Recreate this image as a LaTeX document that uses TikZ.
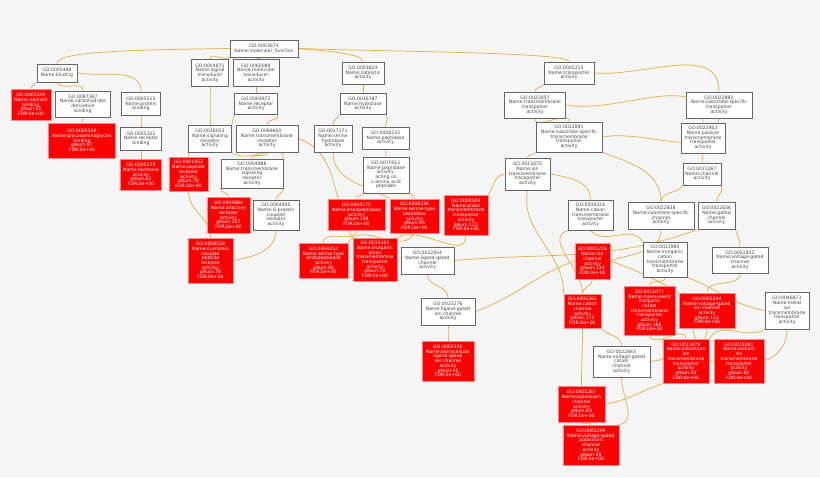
\documentclass[tikz,border=0pt]{standalone}
\usepackage{fontspec}
\setmainfont{DejaVu Sans}
\pgfdeclarelayer{bg}\pgfdeclarelayer{edges}\pgfsetlayers{bg,edges,main}
\definecolor{edgec}{RGB}{226,176,64}
\definecolor{bgc}{RGB}{245,245,245}
\definecolor{txtg}{RGB}{70,70,70}
\tikzset{
 base/.style={rectangle,align=center,inner sep=0.5pt,font=\fontsize{4.6}{4.7}\selectfont},
 wn/.style={base,fill=white,draw=black!60,line width=1pt,text=txtg},
 rn/.style={base,fill=red,draw=red!45,line width=0.8pt,text=white},
 e/.style={draw=edgec,line width=0.7pt}
}
\newcommand\GW[6]{\node[wn,minimum width=#4pt,minimum height=#5pt] (#1) at (#2,#3) {#6};}
\newcommand\GR[6]{\node[rn,minimum width=#4pt,minimum height=#5pt] (#1) at (#2,#3) {#6};}
\newcommand\ED[2]{\draw[e] (#1.south) to[out=-90,in=90] (#2.north);}
\begin{document}
\begin{tikzpicture}[x=1pt,y=-1pt]
\begin{pgfonlayer}{bg}
\fill[bgc] (0,0) rectangle (820,477);
\end{pgfonlayer}
\useasboundingbox (0,0) rectangle (820,477);
\GW{mf}{264}{48.5}{68}{17}{GO:0003674\\Name:molecular\_function}
\GW{b}{57}{73}{40}{18}{GO:0005488\\Name:binding}
\GW{n4871}{210}{73}{37}{27}{GO:0004871\\Name:signal\\transducer\\activity}
\GW{n60089}{256}{73}{46}{27}{GO:0060089\\Name:molecular\\transducer\\activity}
\GW{n3824}{363}{73}{42}{22}{GO:0003824\\Name:catalytic\\activity}
\GW{n5215}{569}{73}{50}{22}{GO:0005215\\Name:transporter\\activity}
\GR{n5549}{31}{104.5}{40}{31}{GO:0005549\\Name:odorant\\binding\\gNum:50\\FDR:0e+00}
\GW{n97367}{83}{104}{55}{26}{GO:0097367\\Name:carbohydrate\\derivative\\binding}
\GW{n5515}{141}{104}{39}{23}{GO:0005515\\Name:protein\\binding}
\GW{n4872}{256}{104}{43}{21}{GO:0004872\\Name:receptor\\activity}
\GW{n16787}{363}{104}{46}{21}{GO:0016787\\Name:hydrolase\\activity}
\GW{n22857}{535}{105}{61}{26}{GO:0022857\\Name:transmembrane\\transporter\\activity}
\GW{n22892}{719}{105}{66}{26}{GO:0022892\\Name:substrate-specific\\transporter\\activity}
\GR{n5539}{82}{140.5}{67}{35}{GO:0005539\\Name:glycosaminoglycan\\binding\\gNum:97\\FDR:0e+00}
\GW{n5102}{141}{138.5}{41}{23}{GO:0005102\\Name:receptor\\binding}
\GW{n38023}{210}{138.5}{43}{27}{GO:0038023\\Name:signaling\\receptor\\activity}
\GW{n99600}{267}{138.5}{62}{27}{GO:0099600\\Name:transmembrane\\receptor\\activity}
\GW{n17171}{333}{138.5}{38}{27}{GO:0017171\\Name:serine\\hydrolase\\activity}
\GW{n8233}{385.5}{138}{47}{22}{GO:0008233\\Name:peptidase\\activity}
\GW{n22891}{569}{137}{66}{30}{GO:0022891\\Name:substrate-specific\\transmembrane\\transporter\\activity}
\GW{n22803}{703}{138}{44}{30}{GO:0022803\\Name:passive\\transmembrane\\transporter\\activity}
\GR{n5179}{141}{174.5}{41}{31}{GO:0005179\\Name:hormone\\activity\\gNum:62\\FDR:0e+00}
\GR{n1653}{188.5}{174}{39}{34}{GO:0001653\\Name:peptide\\receptor\\activity\\gNum:78\\FDR:0e+00}
\GW{n4888}{252}{173.5}{62}{29}{GO:0004888\\Name:transmembrane\\signaling\\receptor\\activity}
\GW{n70011}{386}{175}{46}{36}{GO:0070011\\Name:peptidase\\activity,\\acting on\\L-amino acid\\peptides}
\GW{n15075}{527.5}{174}{45}{32}{GO:0015075\\Name:ion\\transmembrane\\transporter\\activity}
\GW{n15267}{702}{174}{38}{22}{GO:0015267\\Name:channel\\activity}
\GR{n4984}{228.5}{215}{43}{36}{GO:0004984\\Name:olfactory\\receptor\\activity\\gNum:247\\FDR:0e+00}
\GW{n4930}{276}{215}{46}{30}{GO:0004930\\Name:G-protein\\coupled\\receptor\\activity}
\GR{n4175}{356.5}{214.5}{57}{31}{GO:0004175\\Name:endopeptidase\\activity\\gNum:148\\FDR:0e+00}
\GR{n8236}{414.5}{216}{49}{34}{GO:0008236\\Name:serine-type\\peptidase\\activity\\gNum:95\\FDR:0e+00}
\GR{n8509}{466}{215}{44}{40}{GO:0008509\\Name:anion\\transmembrane\\transporter\\activity\\gNum:122\\FDR:0e+00}
\GW{n8324}{590.5}{215}{45}{30}{GO:0008324\\Name:cation\\transmembrane\\transporter\\activity}
\GW{n22838}{661}{215.5}{66}{27}{GO:0022838\\Name:substrate-specific\\channel\\activity}
\GW{n22836}{716.5}{215.5}{37}{27}{GO:0022836\\Name:gated\\channel\\activity}
\GR{n8528}{210.5}{260.5}{45}{45}{GO:0008528\\Name:G-protein\\coupled\\peptide\\receptor\\activity\\gNum:78\\FDR:0e+00}
\GR{n4252}{323.5}{260.5}{49}{35}{GO:0004252\\Name:serine-type\\endopeptidase\\activity\\gNum:86\\FDR:0e+00}
\GR{n15103}{375}{259.5}{44}{43}{GO:0015103\\Name:inorganic\\anion\\transmembrane\\transporter\\activity\\gNum:70\\FDR:0e+00}
\GW{n22834}{427.5}{260.5}{53}{27}{GO:0022834\\Name:ligand-gated\\channel\\activity}
\GR{n5216}{592.5}{261}{35}{36}{GO:0005216\\Name:ion\\channel\\activity\\gNum:234\\FDR:0e+00}
\GW{n22890}{665}{259.5}{44}{35}{GO:0022890\\Name:inorganic\\cation\\transmembrane\\transporter\\activity}
\GW{n22832}{740}{260}{56}{26}{GO:0022832\\Name:voltage-gated\\channel\\activity}
\GW{n15276}{448}{311.5}{54}{27}{GO:0015276\\Name:ligand-gated\\ion channel\\activity}
\GR{n5261}{582.5}{311}{37}{34}{GO:0005261\\Name:cation\\channel\\activity\\gNum:171\\FDR:0e+00}
\GR{n15077}{649.5}{310.5}{51}{49}{GO:0015077\\Name:monovalent\\inorganic\\cation\\transmembrane\\transporter\\activity\\gNum:166\\FDR:0e+00}
\GR{n5244}{707}{310.5}{56}{35}{GO:0005244\\Name:voltage-gated\\ion channel\\activity\\gNum:115\\FDR:0e+00}
\GW{n46873}{787}{310.5}{44}{37}{GO:0046873\\Name:metal\\ion\\transmembrane\\transporter\\activity}
\GR{n5230}{448}{361}{52}{40}{GO:0005230\\Name:extracellular\\ligand-gated\\ion channel\\activity\\gNum:45\\FDR:0e+00}
\GW{n22843}{621.5}{361.5}{57}{31}{GO:0022843\\Name:voltage-gated\\cation\\channel\\activity}
\GR{n15079}{686}{361}{46}{44}{GO:0015079\\Name:potassium\\ion\\transmembrane\\transporter\\activity\\gNum:56\\FDR:0e+00}
\GR{n15081}{739}{361}{50}{44}{GO:0015081\\Name:sodium\\ion\\transmembrane\\transporter\\activity\\gNum:80\\FDR:0e+00}
\GR{n5267}{581.5}{404}{47}{36}{GO:0005267\\Name:potassium\\channel\\activity\\gNum:83\\FDR:0e+00}
\GR{n5249}{591}{445}{56}{40}{GO:0005249\\Name:voltage-gated\\potassium\\channel\\activity\\gNum:59\\FDR:0e+00}
\begin{pgfonlayer}{edges}
\draw[e] (mf.west) .. controls (120,50) and (57,52) .. (b.north);
\draw[e] (mf.south west) to[out=-150,in=90] (n4871.north);
\draw[e] (mf.south) -- (n60089.north);
\draw[e] (mf.east) .. controls (340,52) and (363,55) .. (n3824.north);
\draw[e] (mf.east) .. controls (400,52) and (565,52) .. (n5215.north);
\draw[e] (b.south west) to[out=-120,in=90] (n5549.north);
\draw[e] (b.south) to[out=-60,in=90] (n97367.north);
\draw[e] (b.east) to[out=-10,in=90] (n5515.north);
\ED{n97367}{n5539}
\ED{n5515}{n5102}
\ED{n5102}{n5179}
\ED{n4871}{n38023}
\ED{n60089}{n4872}
\draw[e] (n4872.south west) to[out=-120,in=60] (n38023.north east);
\draw[e] (n4872.south east) to[out=-60,in=90] (n99600.north);
\draw[e] (n38023.south west) to[out=-110,in=90] (n1653.north);
\draw[e] (n38023.south east) to[out=-40,in=90] (n4888.north east);
\ED{n99600}{n4888}
\draw[e] (n99600.east) to[out=-20,in=120] (n15103.north west);
\ED{n1653}{n8528}
\draw[e] (n4888.south west) to[out=-90,in=90] (n4984.north);
\draw[e] (n4888.south east) to[out=-90,in=90] (n4930.north);
\draw[e] (n4930.south) to[out=-90,in=10] (n8528.east);
\ED{n3824}{n16787}
\draw[e] (n16787.south west) to[out=-120,in=90] (n17171.north);
\draw[e] (n16787.south east) to[out=-60,in=90] (n8233.north);
\ED{n8233}{n70011}
\draw[e] (n70011.south west) to[out=-120,in=90] (n4175.north);
\draw[e] (n70011.south east) to[out=-60,in=90] (n8236.north);
\draw[e] (n17171.south) to[out=-90,in=150] (n8236.north west);
\draw[e] (n4175.south) to[out=-90,in=90] (n4252.north);
\draw[e] (n8236.south) to[out=-120,in=60] (n4252.north east);
\draw[e] (n8509.south) to[out=-90,in=30] (n15103.north east);
\draw[e] (n5215.south west) to[out=-120,in=90] (n22857.north);
\draw[e] (n5215.east) to[out=-5,in=90] (n22892.north);
\draw[e] (n22857.south) to[out=-90,in=90] (n22891.north);
\draw[e] (n22857.east) to[out=-10,in=90] (n22803.north);
\draw[e] (n22892.south) to[out=-100,in=10] (n22891.east);
\draw[e] (n22891.south west) to[out=-120,in=90] (n15075.north);
\draw[e] (n22891.south east) to[out=-20,in=90] (n22838.north);
\ED{n22803}{n15267}
\draw[e] (n15267.south west) to[out=-120,in=90] (n22838.north);
\draw[e] (n15267.south east) to[out=-60,in=90] (n22836.north);
\draw[e] (n15075.west) to[out=190,in=60] (n8509.north east);
\draw[e] (n15075.east) to[out=-10,in=90] (n8324.north);
\draw[e] (n15075.south) to[out=-100,in=90] (n5261.north west);
\draw[e] (n22838.south) to[out=-90,in=20] (n5216.east);
\draw[e] (n22836.south west) to[out=-160,in=5] (n22834.east);
\draw[e] (n22836.south east) to[out=-70,in=90] (n22832.north);
\draw[e] (n8324.south west) to[out=-160,in=90] (n5261.north);
\draw[e] (n8324.south) to[out=-50,in=120] (n22890.north west);
\draw[e] (n22834.south) to[out=-90,in=90] (n15276.north);
\draw[e] (n5216.west) to[out=-160,in=20] (n15276.east);
\ED{n5216}{n5261}
\draw[e] (n5216.east) to[out=-20,in=150] (n5244.north west);
\draw[e] (n22890.south) to[out=-90,in=90] (n15077.north);
\draw[e] (n22890.south east) to[out=-20,in=170] (n46873.west);
\ED{n22832}{n5244}
\ED{n15276}{n5230}
\draw[e] (n5261.south east) to[out=-50,in=90] (n22843.north);
\ED{n5261}{n5267}
\draw[e] (n5244.south) to[out=-90,in=10] (n22843.east);
\draw[e] (n15077.south) to[out=-80,in=90] (n15079.north);
\draw[e] (n15077.east) to[out=0,in=180] (n15081.west);
\draw[e] (n46873.south west) to[out=-150,in=60] (n15079.north east);
\draw[e] (n46873.south) to[out=-90,in=20] (n15081.east);
\draw[e] (n15079.south west) to[out=-160,in=10] (n5267.east);
\draw[e] (n22843.south) to[out=-90,in=10] (n5249.north east);
\ED{n5267}{n5249}
\end{pgfonlayer}
\end{tikzpicture}
\end{document}
